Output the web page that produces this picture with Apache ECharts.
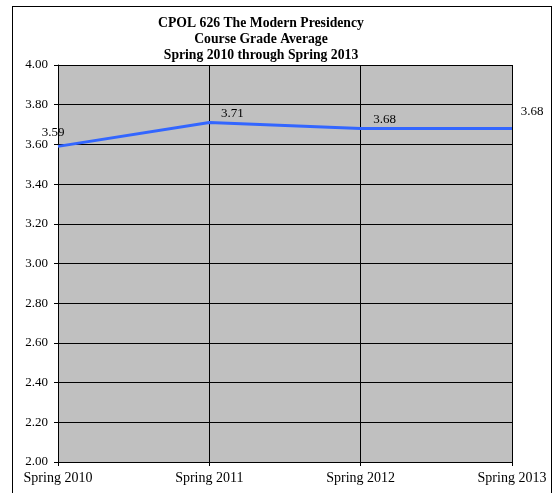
<!DOCTYPE html>
<html>
<head>
<meta charset="utf-8">
<script src="https://cdn.jsdelivr.net/npm/echarts@6/dist/echarts.min.js"></script>
<style>
	html, body { margin: 0; padding: 0; background: #fff; }
	#frame { position: absolute; left: 12px; top: 6px; width: 540px; height: 495px; border: 1px solid #000; box-sizing: border-box; }
	#chart { position: absolute; left: 0; top: 0; width: 557px; height: 493px; }
</style>
</head>
<body>
<div id="frame"></div>
<div id="chart"></div>
<script>
var categories = ['Spring 2010', 'Spring 2011', 'Spring 2012', 'Spring 2013'];
var grades = [3.59, 3.71, 3.68, 3.68];
var yTicks = ['2.00', '2.20', '2.40', '2.60', '2.80', '3.00', '3.20', '3.40', '3.60', '3.80', '4.00'];

var chartDom = document.getElementById('chart');
var myChart = echarts.init(chartDom);
var font = '"Liberation Serif", "Times New Roman", serif';

// label offsets per point, as in the original
var labelOffsets = [[-5, -2], [23, 3], [24, 3], [20, -5]];

var option = {
	animation: false,
	title: {
		text: 'CPOL 626 The Modern Presidency\nCourse Grade Average\nSpring 2010 through Spring 2013',
		left: 256,
		top: 10,
		textAlign: 'center',
		textStyle: {
			fontFamily: font,
			fontSize: 13.7,
			fontWeight: 'bold',
			color: '#000',
			lineHeight: 16
		}
	},
	grid: {
		left: 58,
		top: 65,
		right: 45,
		bottom: 31,
		show: true,
		backgroundColor: '#c0c0c0',
		borderWidth: 0
	},
	xAxis: {
		type: 'category',
		data: categories,
		boundaryGap: false,
		axisLine: { lineStyle: { color: '#000', width: 1 } },
		axisTick: { show: true, length: 4, inside: false, lineStyle: { color: '#000' } },
		axisLabel: { fontFamily: font, fontSize: 14, color: '#000', margin: 9 },
		splitLine: { show: true, lineStyle: { color: '#000', width: 1 } }
	},
	yAxis: {
		type: 'value',
		min: 2,
		max: 4,
		interval: 0.2,
		axisLine: { show: true, lineStyle: { color: '#000' } },
		axisTick: { show: true, length: 4, lineStyle: { color: '#000' } },
		axisLabel: {
			fontFamily: font,
			fontSize: 13,
			color: '#000',
			margin: 10,
			formatter: function (v) { return yTicks[Math.round((v - 2) / 0.2)]; }
		},
		splitLine: { show: true, lineStyle: { color: '#000', width: 1 } }
	},
	series: [
		{
			type: 'line',
			data: grades.map(function (v, i) {
				return { value: v, label: { offset: labelOffsets[i] } };
			}),
			symbol: 'circle',
			symbolSize: 0,
			showSymbol: true,
			itemStyle: { color: '#3366ff' },
			lineStyle: { color: '#3366ff', width: 3 },
			label: {
				show: true,
				position: 'top',
				fontFamily: font,
				fontSize: 13,
				color: '#000',
				formatter: function (p) { return p.value.toFixed(2); }
			}
		}
	]
};

option && myChart.setOption(option);
</script>
</body>
</html>
